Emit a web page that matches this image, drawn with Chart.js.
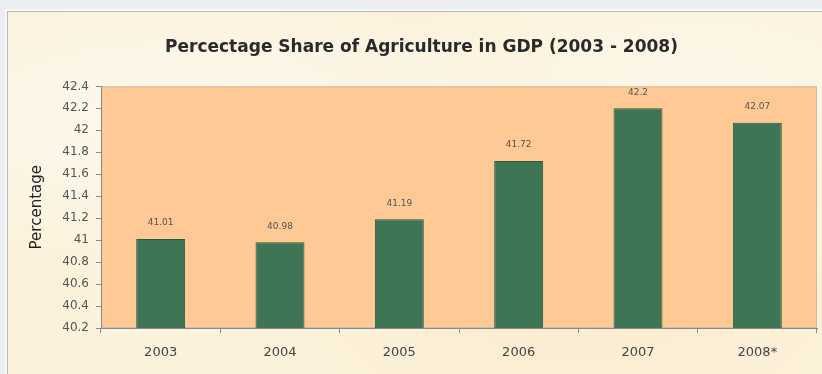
<!DOCTYPE html>
<html lang="en">
<head>
  <meta charset="UTF-8">
  <title>Percectage Share of Agriculture in GDP</title>
  <style>
    body {
      margin: 0;
      background-color: #eceef1;
      font-family: 'DejaVu Sans', Arial, sans-serif;
      overflow: hidden;
    }
    .frame {
      position: absolute;
      left: 5px;
      top: 9px;
      width: 817px;
      height: 365px;
      background-color: #fafafa;
    }
    .inner {
      position: absolute;
      left: 2px;
      top: 2px;
      right: 0;
      bottom: 0;
      border-left: 1px solid #b8b8b8;
      border-top: 1px solid #b8b8b8;
      background-color: #fcf2dc;
      background-image:
        radial-gradient(ellipse at 20% 30%, rgba(255,255,255,0.5), rgba(255,255,255,0) 40%),
        radial-gradient(ellipse at 70% 80%, rgba(250,232,200,0.6), rgba(250,232,200,0) 45%),
        radial-gradient(ellipse at 85% 20%, rgba(255,250,240,0.6), rgba(255,250,240,0) 35%);
    }
    canvas {
      position: absolute;
      left: 0;
      top: 0;
    }
  </style>
  <script src="https://cdn.jsdelivr.net/npm/chart.js"></script>
</head>
<body>
  <div class="frame">
    <div class="inner">
      <canvas id="agriChart" width="814" height="362"></canvas>
    </div>
  </div>

  <script>
    const years = ['2003', '2004', '2005', '2006', '2007', '2008*'];
    const shares = [41.01, 40.98, 41.19, 41.72, 42.2, 42.07];
    const yMin = 40.2;
    const yMax = 42.4;
    const yStep = 0.2;

    const fontFamily = '"DejaVu Sans", "Liberation Sans", Arial, sans-serif';

    // peach plot area + thin border, like the Excel original
    const plotBackground = {
      id: 'plotBackground',
      beforeDraw(chart) {
        const { ctx, chartArea: a } = chart;
        ctx.save();
        ctx.fillStyle = '#fec995';
        ctx.fillRect(a.left, a.top, a.right - a.left, a.bottom - a.top);
        ctx.strokeStyle = '#cdbca6';
        ctx.lineWidth = 1;
        ctx.strokeRect(a.left + 0.5, a.top + 0.5, a.right - a.left - 1, a.bottom - a.top - 1);
        ctx.restore();
      }
    };

    // value labels above each bar
    const barLabels = {
      id: 'barLabels',
      afterDatasetsDraw(chart) {
        const { ctx } = chart;
        const meta = chart.getDatasetMeta(0);
        ctx.save();
        ctx.font = '9px ' + fontFamily;
        ctx.fillStyle = '#555';
        ctx.textAlign = 'center';
        ctx.textBaseline = 'middle';
        meta.data.forEach((bar, i) => {
          ctx.fillText(String(shares[i]), bar.x, bar.y - 16);
        });
        ctx.restore();
      }
    };

    const ctx = document.getElementById('agriChart').getContext('2d');
    const agriChart = new Chart(ctx, {
      type: 'bar',
      data: {
        labels: years,
        datasets: [{
          data: shares,
          backgroundColor: '#3d7555',
          borderColor: '#2c5a40',
          borderWidth: 1,
          borderSkipped: 'bottom',
          barPercentage: 0.41,
          categoryPercentage: 1.0
        }]
      },
      plugins: [plotBackground, barLabels],
      options: {
        responsive: false,
        animation: false,
        layout: {
          padding: { left: 18, right: 5, top: 0, bottom: 0 }
        },
        plugins: {
          legend: { display: false },
          tooltip: { enabled: false },
          title: {
            display: true,
            text: 'Percectage Share of Agriculture in GDP (2003 - 2008)',
            color: '#2a2a2a',
            font: { family: fontFamily, size: 17, weight: 'bold' },
            padding: { top: 25, bottom: 29 }
          }
        },
        scales: {
          x: {
            grid: {
              offset: true,
              drawOnChartArea: false,
              tickLength: 5,
              color: '#8a8a8a'
            },
            border: { color: '#8a8a8a' },
            ticks: {
              color: '#444',
              padding: 12,
              font: { family: fontFamily, size: 13 }
            },
            afterFit(scale) { scale.height = 46; }
          },
          y: {
            min: yMin,
            max: yMax,
            grid: {
              drawOnChartArea: false,
              tickLength: 5,
              color: '#8a8a8a'
            },
            border: { color: '#8a8a8a' },
            ticks: {
              stepSize: yStep,
              color: '#555',
              padding: 7,
              font: { family: fontFamily, size: 12 },
              callback: (v) => Math.round(v * 10) / 10
            },
            title: {
              display: true,
              text: 'Percentage',
              color: '#222',
              font: { family: fontFamily, size: 15 },
              padding: { top: 2, bottom: 0 }
            },
            afterFit(scale) { scale.width = 75; }
          }
        }
      }
    });
  </script>
</body>
</html>
